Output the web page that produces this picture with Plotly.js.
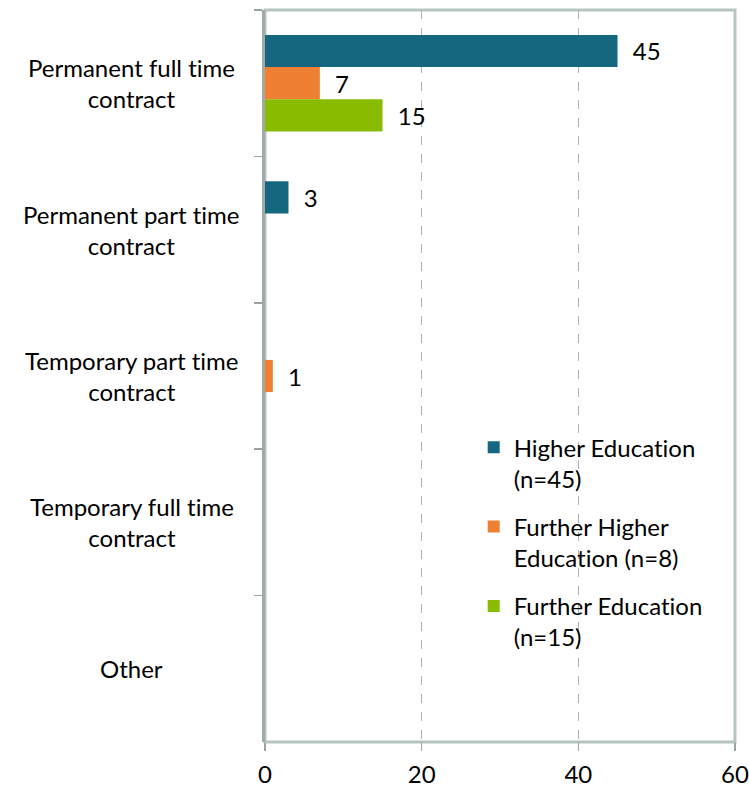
<!DOCTYPE html>
<html>
<head>
<meta charset="utf-8">
<script src="https://cdn.plot.ly/plotly-3.0.1.min.js"></script>
<style>html,body{margin:0;padding:0;background:#fff;}#chart{width:749px;height:789px;}
text{font-variant-ligatures:none;font-feature-settings:"liga" 0;}</style>
</head>
<body>
<div id="chart"></div>
<script>
const categories = ["Permanent full time contract", "Permanent part time contract", "Temporary part time contract", "Temporary full time contract", "Other"];
const categoryLabels = ["Permanent full time<br>contract", "Permanent part time<br>contract", "Temporary part time<br>contract", "Temporary full time<br>contract", "Other"];
const seriesNames = ["Higher Education<br>(n=45)", "Further Higher<br>Education (n=8)", "Further Education<br>(n=15)"];
const higherEducation = [45, 3, 0, 0, 0];
const furtherHigherEducation = [7, 0, 1, 0, 0];
const furtherEducation = [15, 0, 0, 0, 0];
const xTicks = [0, 20, 40, 60];
const colors = ["#14677f", "#ee7f33", "#89bc00"];

const FONT = "Lato, 'Open Sans', sans-serif";
const FS = 24;
const pad = "\u00a0\u00a0";
function mk(vals, i) {
  return {
    type: "bar", orientation: "h",
    y: categories, x: vals,
    name: seriesNames[i],
    legendgroup: "g" + i,
    marker: {color: colors[i], line: {width: 0}},
    text: vals.map(v => v ? pad + v : ""),
    textposition: "outside",
    texttemplate: "%{text}",
    textfont: {family: FONT, size: FS, color: "#000"},
    cliponaxis: false,
    hoverinfo: "x+name"
  };
}
const data = [mk(higherEducation, 0), mk(furtherHigherEducation, 1), mk(furtherEducation, 2)];

const layout = {
  width: 749, height: 789,
  margin: {l: 265, r: 14, t: 10, b: 47},
  paper_bgcolor: "#fff", plot_bgcolor: "#fff",
  barmode: "group", bargap: 0.34, bargroupgap: 0,
  font: {family: FONT, size: FS, color: "#000"},
  showlegend: true,
  legend: {x: 0.444, y: 0.433, xanchor: "left", yanchor: "top", bgcolor: "rgba(0,0,0,0)", valign: "top",
           font: {family: FONT, size: FS, color: "#000"}, traceorder: "grouped", tracegroupgap: 14, itemwidth: 30},
  xaxis: {range: [0, 60], tickvals: xTicks, ticktext: xTicks.map(String), ticks: "outside", ticklen: 8,
          tickcolor: "#9aa5a2", tickwidth: 1.5, showgrid: true, gridcolor: "#a8b4b2", griddash: "dash",
          gridwidth: 1, zeroline: false, showline: false, fixedrange: true, ticklabelstandoff: 3,
          tickfont: {family: FONT, size: FS, color: "#000"}},
  yaxis: {type: "category", categoryarray: categories, autorange: "reversed", showticklabels: false,
          ticks: "outside", tickson: "boundaries", ticklen: 8, tickcolor: "#9aa5a2", tickwidth: 1.5,
          showline: true, linecolor: "#a1aaa6", linewidth: 3, showgrid: false, zeroline: false, fixedrange: true},
  shapes: [{type: "rect", xref: "paper", yref: "paper", x0: 0, x1: 1, y0: 0, y1: 1,
            line: {color: "#b5c4bf", width: 3}, fillcolor: "rgba(0,0,0,0)", layer: "below"}],
  annotations: categories.map((c, i) => ({
    xref: "paper", yref: "y", x: -0.283, y: c, text: categoryLabels[i], showarrow: false,
    xanchor: "center", yanchor: "middle", align: "center",
    font: {family: FONT, size: FS, color: "#000"}
  }))
};
Plotly.newPlot("chart", data, layout, {displayModeBar: false, staticPlot: true});
</script>
</body>
</html>
